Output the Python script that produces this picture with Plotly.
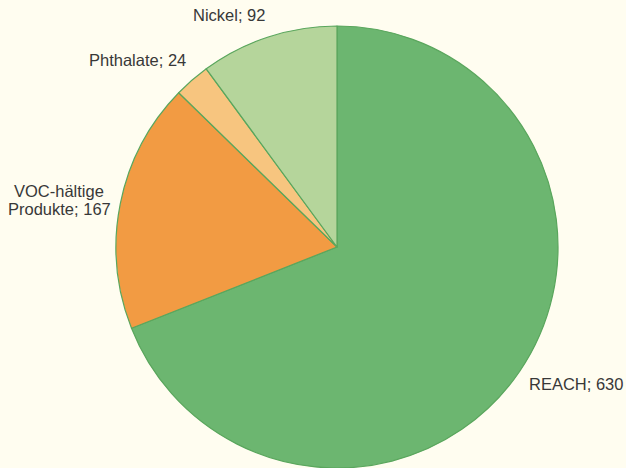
import plotly.graph_objects as go

labels = ["REACH", "VOC-hältige Produkte", "Phthalate", "Nickel"]
values = [630, 167, 24, 92]
colors = ["#6cb670", "#f29b43", "#f7c57f", "#b5d59b"]

# label lines and where they sit (pixel centre, from top-left)
label_text = ["REACH; 630", "VOC-hältige", "Produkte; 167", "Phthalate; 24", "Nickel; 92"]
label_pos = [(576, 384), (59, 191), (59, 209), (137, 60), (229, 15)]

W, H = 626, 468

fig = go.Figure()
fig.add_trace(go.Pie(
    labels=labels,
    values=values,
    sort=False,
    direction="clockwise",
    rotation=0,
    marker=dict(colors=colors, line=dict(color="#5aa65d", width=1.2)),
    textinfo="none",
    hoverinfo="label+value",
    domain=dict(x=[116 / W, 558 / W], y=[0, 442 / H]),
))

for txt, (px_, py_) in zip(label_text, label_pos):
    fig.add_annotation(
        x=px_ / W, y=1 - py_ / H, xref="paper", yref="paper",
        xanchor="center", yanchor="middle",
        text=txt, showarrow=False, align="center",
        font=dict(family="Liberation Sans, Arial", size=16.5, color="#383838"),
    )

fig.update_layout(
    width=W, height=H,
    margin=dict(l=0, r=0, t=0, b=0),
    paper_bgcolor="#fffdf0",
    plot_bgcolor="#fffdf0",
    showlegend=False,
)

# drop the default page margin so the chart sits at 0,0
fig.write_html("out.html", config={"displayModeBar": False},
               post_script="document.body.style.margin='0';")
